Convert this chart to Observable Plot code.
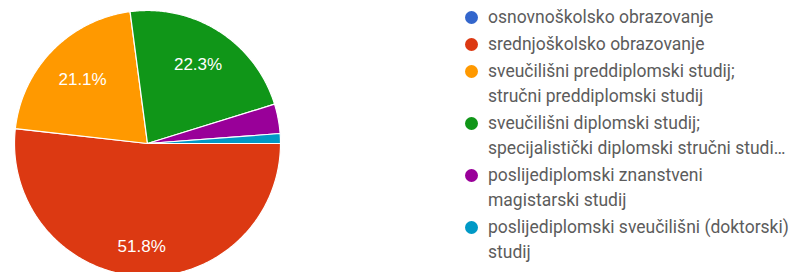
<!DOCTYPE html>
<html>
<head>
<meta charset="utf-8">
<script src="https://cdn.jsdelivr.net/npm/d3@7"></script>
<script src="https://cdn.jsdelivr.net/npm/@observablehq/plot@0.6"></script>
<style>
  html, body { margin: 0; padding: 0; background: #fff; }
  #wrap { position: relative; width: 793px; height: 272px; overflow: hidden; }
  #chart svg { display: block; }
  #legend { position: absolute; left: 465px; top: 5px; font-family: Roboto, "Liberation Sans", sans-serif; font-size: 17.5px; color: #5c5c5c; }
  .item { display: flex; align-items: flex-start; margin-bottom: 2px; }
  .dot { width: 13px; height: 13px; border-radius: 50%; flex: none; margin-top: 6px; margin-right: 10px; }
  .txt { line-height: 25px; white-space: nowrap; }
</style>
</head>
<body>
<div id="wrap">
  <div id="chart"></div>
  <div id="legend"></div>
</div>
<script>
// ---- data ----
const categories = [
  "osnovnoškolsko obrazovanje",
  "srednjoškolsko obrazovanje",
  "sveučilišni preddiplomski studij; stručni preddiplomski studij",
  "sveučilišni diplomski studij; specijalistički diplomski stručni studij",
  "poslijediplomski znanstveni magistarski studij",
  "poslijediplomski sveučilišni (doktorski) studij"
];
const counts = [0, 130, 53, 56, 9, 3];
const colors = ["#3366cc", "#dc3912", "#ff9900", "#109618", "#990099", "#0099c6"];
const legendLines = [
  ["osnovnoškolsko obrazovanje"],
  ["srednjoškolsko obrazovanje"],
  ["sveučilišni preddiplomski studij;", "stručni preddiplomski studij"],
  ["sveučilišni diplomski studij;", "specijalistički diplomski stručni studi…"],
  ["poslijediplomski znanstveni", "magistarski studij"],
  ["poslijediplomski sveučilišni (doktorski)", "studij"]
];

// ---- layout constants ----
const W = 793, H = 272;
const cx = 147, cy = 143, R = 133;

const rows = categories.map((c, i) => ({cat: c, value: counts[i]}));
const total = d3.sum(counts);

const arcs = d3.pie().sort(null).value(d => d.value)
  .startAngle(Math.PI / 2).endAngle(Math.PI / 2 + 2 * Math.PI)(rows);

// slice outlines in unit coordinates
const pts = [];
for (const a of arcs) {
  if (a.data.value <= 0) continue;
  const span = a.endAngle - a.startAngle;
  const n = Math.max(2, Math.ceil(span / 0.01));
  pts.push({cat: a.data.cat, x: 0, y: 0});
  for (let i = 0; i <= n; i++) {
    const t = a.startAngle + span * i / n;
    pts.push({cat: a.data.cat, x: Math.sin(t), y: Math.cos(t)});
  }
  pts.push({cat: a.data.cat, x: 0, y: 0});
}

// labels: farthest corner of the text box sits on a fixed radius
const hw = 24 / R, hh = 6 / R, RL = 113 / R;
const labels = arcs.filter(a => a.data.value / total >= 0.05).map(a => {
  const m = (a.startAngle + a.endAngle) / 2;
  const s = Math.abs(Math.sin(m)), c = Math.abs(Math.cos(m));
  const B = 2 * (s * hw + c * hh), C = hw * hw + hh * hh - RL * RL;
  const rho = (-B + Math.sqrt(B * B - 4 * C)) / 2;
  return {
    x: rho * Math.sin(m),
    y: rho * Math.cos(m),
    label: (a.data.value / total * 100).toFixed(1) + "%"
  };
});

const chart = Plot.plot({
  width: W,
  height: H,
  margin: 0,
  x: {domain: [-cx / R, (W - cx) / R], axis: null},
  y: {domain: [-(H - cy) / R, cy / R], axis: null},
  color: {domain: categories, range: colors},
  marks: [
    Plot.line(pts, {x: "x", y: "y", z: "cat", fill: "cat", stroke: "white", strokeWidth: 1.2, strokeLinejoin: "round", curve: "linear"}),
    Plot.text(labels, {x: "x", y: "y", text: "label", fill: "white", fontSize: 17, fontFamily: "Liberation Sans, Arial, sans-serif", textAnchor: "middle"})
  ]
});
document.getElementById("chart").appendChild(chart);

// legend
const legend = document.getElementById("legend");
categories.forEach((c, i) => {
  const item = document.createElement("div");
  item.className = "item";
  const dot = document.createElement("span");
  dot.className = "dot";
  dot.style.background = colors[i];
  const txt = document.createElement("div");
  txt.className = "txt";
  txt.innerHTML = legendLines[i].map(l => l.replace(/&/g, "&amp;").replace(/</g, "&lt;")).join("<br>");
  item.appendChild(dot);
  item.appendChild(txt);
  legend.appendChild(item);
});
</script>
</body>
</html>
